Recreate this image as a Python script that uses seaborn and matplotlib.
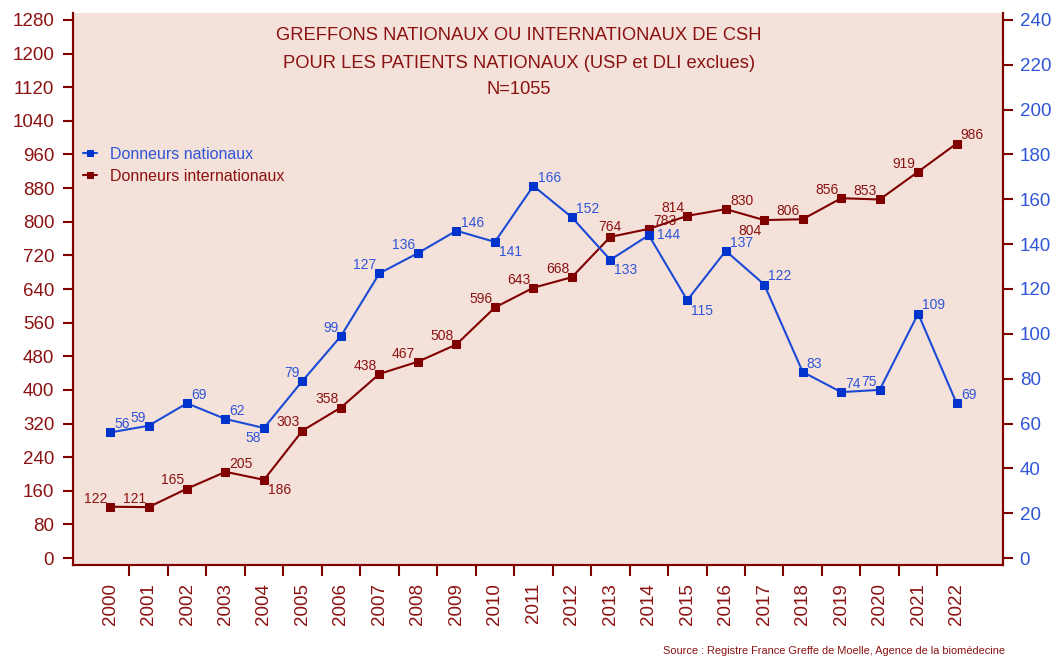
import matplotlib
matplotlib.use("Agg")
import matplotlib.pyplot as plt
import numpy as np
import pandas as pd
import seaborn as sns

years = list(range(2000, 2023))
donneurs_nationaux = [56, 59, 69, 62, 58, 79, 99, 127, 136, 146, 141, 166,
                      152, 133, 144, 115, 137, 122, 83, 74, 75, 109, 69]
donneurs_internationaux = [122, 121, 165, 205, 186, 303, 358, 438, 467, 508, 596, 643,
                           668, 764, 783, 814, 830, 804, 806, 856, 853, 919, 986]
left_ticks = list(range(0, 1281, 80))
right_ticks = list(range(0, 241, 20))
title_lines = ["GREFFONS NATIONAUX OU INTERNATIONAUX DE CSH",
               "POUR LES PATIENTS NATIONAUX (USP et DLI exclues)",
               "N=1055"]
source = "Source : Registre France Greffe de Moelle, Agence de la biomédecine"

# where each value label sits around its marker
pos_inter = ["la", "la", "la", "ra", "rb", "la", "la", "la", "la", "la", "la", "la",
             "la", "ca", "ra", "la", "ra", "lb", "la", "la", "la", "la", "ra"]
pos_nat = ["ra", "la", "ra", "ra", "lb", "la", "la", "la", "la", "ra", "rb", "ra",
           "ra", "rb", "r", "rb", "ra", "ra", "ra", "ra", "la", "ra", "ra"]

rouge = "#800000"
rouge_txt = "#8B1212"
bleu = "#1A4AD6"
bleu_mk = "#0033CC"
bleu_txt = "#2F55D8"
fond = "#F4E1D9"

offsets = {"la": (-2, 3, "right", "baseline"),
           "ra": (3, 3, "left", "baseline"),
           "lb": (-2, -2.5, "right", "top"),
           "rb": (3, -2.5, "left", "top"),
           "ca": (0, 4, "center", "baseline"),
           "r": (6, 0, "left", "center")}

sns.set_style("ticks")
plt.rcParams["font.family"] = ["Liberation Sans", "DejaVu Sans"]

df = pd.DataFrame({"annee": years,
                   "nat": donneurs_nationaux,
                   "inter": donneurs_internationaux})

fig = plt.figure(figsize=(10.56, 6.57), dpi=100)
W, H = 1056, 657
ax = fig.add_axes([73 / W, 1 - 565 / H, (1003 - 73) / W, (565 - 13) / H])
ax.set_facecolor(fond)
ax2 = ax.twinx()

sns.lineplot(data=df, x="annee", y="inter", ax=ax, color=rouge, marker="s",
             markersize=6, markeredgecolor=rouge, linewidth=1.5)
sns.lineplot(data=df, x="annee", y="nat", ax=ax2, color=bleu, marker="s",
             markersize=6, markerfacecolor=bleu_mk, markeredgecolor=bleu_mk, linewidth=1.5)

ax.set_xlim(1999.037, 2023.205)
ax.set_ylim(-16.65, 1296.65)
ax2.set_ylim(-16.65 * 240 / 1280, 1296.65 * 240 / 1280)

for x, v, p in zip(years, donneurs_internationaux, pos_inter):
    dx, dy, ha, va = offsets[p]
    ax.annotate(str(v), (x, v), xytext=(dx, dy), textcoords="offset points",
                ha=ha, va=va, fontsize=10, color=rouge_txt)
for x, v, p in zip(years, donneurs_nationaux, pos_nat):
    dx, dy, ha, va = offsets[p]
    ax2.annotate(str(v), (x, v), xytext=(dx, dy), textcoords="offset points",
                 ha=ha, va=va, fontsize=10, color=bleu_txt)

# axes
ax.set_xlabel("")
ax.set_ylabel("")
ax2.set_ylabel("")
ax.set_xticks(years)
ax.set_xticklabels([str(y) for y in years], rotation=90)
ax.set_xticks([y + 0.5 for y in years[:-1]], minor=True)
ax.tick_params(axis="x", which="major", length=0, pad=13, labelsize=13.5, labelcolor=rouge_txt)
ax.tick_params(axis="x", which="minor", length=8, width=1.5, color=rouge, direction="out")
ax.set_yticks(left_ticks)
ax.tick_params(axis="y", length=7, width=1.5, color=rouge, pad=6.5, labelsize=13.5,
               labelcolor=rouge_txt, direction="out")
ax2.set_yticks(right_ticks)
ax2.tick_params(axis="y", length=7, width=1.5, color=rouge, pad=5, labelsize=13.5,
                labelcolor=bleu_txt, direction="out")

for a in (ax, ax2):
    a.spines["top"].set_visible(False)
    for s in ("left", "right", "bottom"):
        a.spines[s].set_color(rouge)
        a.spines[s].set_linewidth(1.5)
    a.grid(False)

h1 = ax2.lines[0]
h2 = ax.lines[0]
leg = ax2.legend([h1, h2], ["Donneurs nationaux", "Donneurs internationaux"],
                 loc="upper left", bbox_to_anchor=(10 / 930, 1 - 134 / 552),
                 borderaxespad=0, borderpad=0, frameon=False, fontsize=11.5,
                 handlelength=0.9, handletextpad=0.8, labelspacing=0.42, markerscale=0.8)
leg.get_texts()[0].set_color(bleu_txt)
leg.get_texts()[1].set_color(rouge_txt)

for i, line in enumerate(title_lines):
    fig.text(519 / W, 1 - (36 + 27 * i) / H, line, ha="center", va="center",
             fontsize=13.25, color=rouge_txt)
fig.text(1005 / W, 1 - 651 / H, source, ha="right", va="center", fontsize=7.9,
         color=rouge_txt)

fig.savefig("out.png", dpi=100, facecolor="white")
